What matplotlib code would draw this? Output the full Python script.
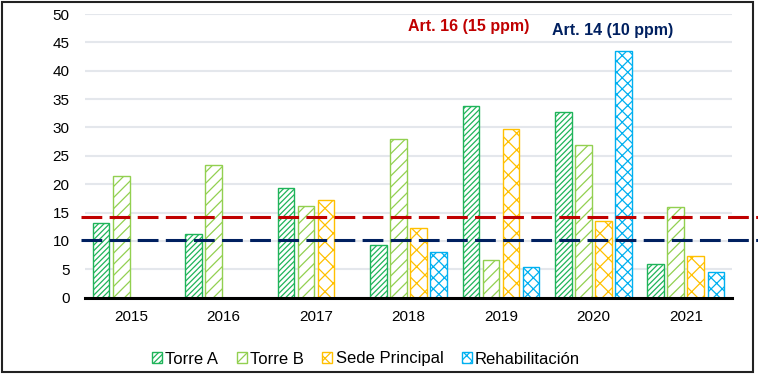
import numpy as np
import matplotlib
matplotlib.use("Agg")
import matplotlib.pyplot as plt
from matplotlib.patches import Rectangle, Patch
import matplotlib.transforms as mtransforms

plt.rcParams['font.family'] = ['Liberation Sans', 'DejaVu Sans']
plt.rcParams['hatch.linewidth'] = 0.9

# datos (ppm)
anios = ["2015", "2016", "2017", "2018", "2019", "2020", "2021"]
torre_a = [13.2, 11.2, 19.3, 9.2, 33.8, 32.8, 5.9]
torre_b = [21.4, 23.4, 16.1, 28.0, 6.6, 26.9, 15.9]
sede = [np.nan, np.nan, 17.2, 12.3, 29.7, 13.5, 7.3]
rehab = [np.nan, np.nan, np.nan, 8.0, 5.4, 43.4, 4.5]
series = ["Torre A", "Torre B", "Sede Principal", "Rehabilitación"]
limite_art16 = 14.3
limite_art14 = 10.2

colores = ["#1FB45A", "#92D050", "#FFC000", "#00B0F0"]
tramas = ["//////", "///", "xx", "xxx"]

fig = plt.figure(figsize=(7.58, 3.75), dpi=100)
ax = fig.add_axes([85 / 758, 1 - 297.7 / 375, (732 - 85) / 758, (297.7 - 14) / 375])

x = np.arange(len(anios))
paso = 0.217
ancho = 0.18
datos = [torre_a, torre_b, sede, rehab]
for i, vals in enumerate(datos):
    ax.bar(x + (i - 1.5) * paso, vals, width=ancho, facecolor="white",
           edgecolor=colores[i], hatch=tramas[i], linewidth=1.0, zorder=2)

ax.set_xlim(-0.5, len(anios) - 0.5)
ax.set_ylim(0, 50)
ax.set_yticks(range(0, 51, 5))
ax.set_xticks(x)
ax.set_xticklabels(anios)
ax.tick_params(axis="both", length=0, labelsize=11, colors="black")
ax.tick_params(axis="y", pad=11)
ax.tick_params(axis="x", pad=9)
ax.grid(axis="y", color="#E4E7EC", linewidth=1.5, zorder=0)
ax.set_axisbelow(True)
for s in ["top", "right", "left"]:
    ax.spines[s].set_visible(False)
ax.spines["bottom"].set_linewidth(2.2)
ax.spines["bottom"].set_zorder(4)

# lineas de limite (salen un poco del area del grafico)
trans = mtransforms.blended_transform_factory(ax.transAxes, ax.transData)
for y, c in [(limite_art16, "#C00000"), (limite_art14, "#002060")]:
    ax.plot([-0.006, 1.04], [y, y], transform=trans, color=c, linewidth=2.2,
            dashes=(6.8, 2.4), clip_on=False, zorder=3)

ax.text(469 / 758, 1 - 26 / 375, "Art. 16 (15 ppm)", transform=fig.transFigure,
        color="#C00000", fontsize=11.5, fontweight="bold", ha="center", va="center")
ax.text(613 / 758, 1 - 30 / 375, "Art. 14 (10 ppm)", transform=fig.transFigure,
        color="#002060", fontsize=11.5, fontweight="bold", ha="center", va="center")

handles = [Patch(facecolor="white", edgecolor=colores[i], hatch=tramas[i], label=series[i])
           for i in range(4)]
fig.legend(handles=handles, loc="center", bbox_to_anchor=(366 / 758, 1 - 359 / 375),
           ncol=4, frameon=False, fontsize=12, handlelength=0.6, handleheight=0.6,
           handletextpad=0.2, columnspacing=1.1)

# marco exterior
fig.patches.append(Rectangle((1.5 / 758, 1 - 372 / 375), 751.5 / 758, 370.5 / 375,
                             transform=fig.transFigure, fill=False,
                             edgecolor="#222222", linewidth=1.5, zorder=0))

fig.savefig("out.png", dpi=100)
